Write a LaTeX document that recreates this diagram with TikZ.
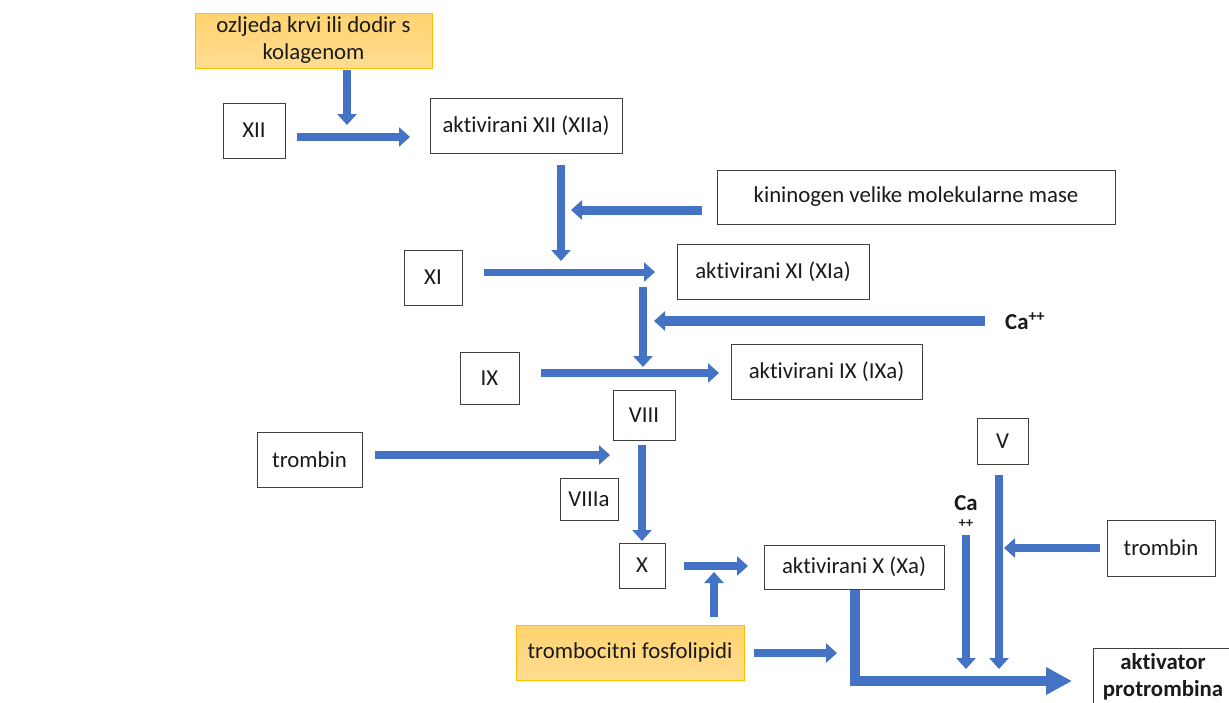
\documentclass[tikz,border=0pt]{standalone}
\usepackage{fontspec}
\setmainfont{Carlito}[Ligatures={NoCommon}]
\usetikzlibrary{arrows.meta}
\definecolor{arrblue}{HTML}{4472C4}
\definecolor{orbord}{HTML}{FFC000}
\definecolor{ortop}{HTML}{FFD36E}
\definecolor{orbot}{HTML}{FFDC92}
\definecolor{boxline}{HTML}{404040}
\definecolor{txt}{HTML}{1A1A1A}
\tikzset{
  box/.style={draw=boxline, line width=1pt, fill=white, inner sep=0pt, align=center,
    text=txt, font=\fontsize{22.8}{27}\selectfont},
  obox/.style={draw=orbord, line width=1pt, top color=ortop, bottom color=orbot,
    inner sep=0pt, align=center, text=txt, font=\fontsize{22.8}{27}\selectfont},
  arr/.style={draw=arrblue, line width=8pt, -{Triangle[width=19pt,length=11pt]}},
  bigarr/.style={draw=arrblue, line width=10pt, -{Triangle[width=26pt,length=26pt]}},
  lbl/.style={inner sep=0pt, text=txt, font=\bfseries\fontsize{22.8}{27}\selectfont},
}
\begin{document}
\begin{tikzpicture}[x=1pt,y=-1pt]
\useasboundingbox (0,0) rectangle (1229,702);
\fill[white] (0,0) rectangle (1229,702);

% nodes
\node[obox, minimum width=237pt, minimum height=55pt] (oz) at (313.5,40.5) {ozljeda krvi ili dodir s\\kolagenom};
\node[box, minimum width=62pt, minimum height=55pt] (xii) at (254,130.5) {XII};
\node[box, minimum width=192pt, minimum height=55pt] (xiia) at (526,125.5) {aktivirani XII (XIIa)};
\node[box, minimum width=398pt, minimum height=54pt] (kin) at (916,197) {kininogen velike molekularne mase};
\node[box, minimum width=58pt, minimum height=55pt] (xi) at (433,277.5) {XI};
\node[box, minimum width=192pt, minimum height=55pt] (xia) at (773,271.5) {aktivirani XI (XIa)};
\node[lbl, anchor=west] (ca1) at (1005,321) {Ca\textsuperscript{++}};
\node[box, minimum width=59pt, minimum height=52pt] (ix) at (489.5,378) {IX};
\node[box, minimum width=191pt, minimum height=55pt] (ixa) at (826.5,371.5) {aktivirani IX (IXa)};
\node[box, minimum width=62pt, minimum height=50pt] (viii) at (644,415) {VIII};
\node[box, minimum width=105pt, minimum height=55pt] (tromb1) at (309.5,459.5) {trombin};
\node[box, minimum width=58pt, minimum height=42pt] (viiia) at (589,499) {VIIIa};
\node[box, minimum width=46pt, minimum height=45pt] (x) at (642,565.5) {X};
\node[box, minimum width=180pt, minimum height=44pt] (xa) at (854,567) {aktivirani X (Xa)};
\node[box, minimum width=51pt, minimum height=46pt] (v) at (1002.5,441) {V};
\node[lbl] (ca2) at (966,503) {Ca};
\node[lbl, font=\bfseries\fontsize{14}{16}\selectfont] (ca2p) at (966,524) {++};
\node[box, minimum width=108pt, minimum height=56pt] (tromb2) at (1161,548) {trombin};
\node[obox, minimum width=228pt, minimum height=55pt] (fos) at (630,652.5) {trombocitni fosfolipidi};
\node[box, anchor=north west, minimum width=150pt, minimum height=70pt] (akt) at (1093,648) {};
\node[lbl, align=center] (akttxt) at (1163,677) {aktivator\\protrombina};

% connector end points
\coordinate (a1s) at (347,70);   \coordinate (a1e) at (347,125);
\coordinate (a2s) at (297,137);  \coordinate (a2e) at (410,137);
\coordinate (a3s) at (561,165);  \coordinate (a3e) at (561,261);
\coordinate (a4s) at (702,210);  \coordinate (a4e) at (571,210);
\coordinate (a5s) at (484,272);  \coordinate (a5e) at (655,272);
\coordinate (a6s) at (643,287);  \coordinate (a6e) at (643,367);
\coordinate (a7s) at (985,321);  \coordinate (a7e) at (654,321);
\coordinate (a8s) at (541,373);  \coordinate (a8e) at (719,373);
\coordinate (a9s) at (375,455);  \coordinate (a9e) at (610,455);
\coordinate (a10s) at (642,445); \coordinate (a10e) at (642,541);
\coordinate (a11s) at (684,566); \coordinate (a11e) at (748,566);
\coordinate (a12s) at (714,617); \coordinate (a12e) at (714,572);
\coordinate (a13s) at (754,653); \coordinate (a13e) at (837,653);
\coordinate (a14s) at (855,590); \coordinate (a14e) at (1072,681);
\coordinate (a15s) at (966,535); \coordinate (a15e) at (966,669);
\coordinate (a16s) at (999,475); \coordinate (a16e) at (999,669);
\coordinate (a17s) at (1100,548);\coordinate (a17e) at (1004,548);

% connectors
\draw[arr] (a1s) -- (a1e);
\draw[arr] (a2s) -- (a2e);
\draw[arr] (a3s) -- (a3e);
\draw[arr, line width=9pt] (a4s) -- (a4e);
\draw[arr, line width=7pt] (a5s) -- (a5e);
\draw[arr] (a6s) -- (a6e);
\draw[arr, line width=10pt] (a7s) -- (a7e);
\draw[arr] (a8s) -- (a8e);
\draw[arr] (a9s) -- (a9e);
\draw[arr] (a10s) -- (a10e);
\draw[arr] (a11s) -- (a11e);
\draw[arr] (a12s) -- (a12e);
\draw[arr] (a13s) -- (a13e);
\draw[bigarr] (a14s) |- (a14e);
\draw[arr] (a15s) -- (a15e);
\draw[arr] (a16s) -- (a16e);
\draw[arr] (a17s) -- (a17e);
\end{tikzpicture}
\end{document}
